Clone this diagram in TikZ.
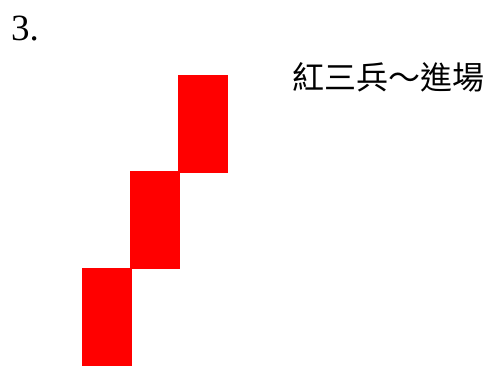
\documentclass[tikz,border=0pt]{standalone}
\usepackage{fontspec}
\setmainfont{Liberation Serif}
\newfontfamily\cjk{Noto Sans CJK TC}
\usepackage{xcolor}
\usetikzlibrary{positioning}

\begin{document}
\begin{tikzpicture}[x=1pt,y=1pt]
\tikzset{candle/.style={fill=red,inner sep=0pt,minimum width=50pt,minimum height=98pt}}
\tikzset{label text/.style={inner sep=0pt,font=\cjk\fontsize{32}{38}\selectfont}}

\useasboundingbox (0,0) rectangle (494,376);

\node[anchor=base west,inner sep=0pt,font=\fontsize{37}{44}\selectfont] (num) at (11,336) {3.};

\node[candle] (c1) at (107,59.5) {};
\node[candle] (c2) at (155,156) {};
\node[candle] (c3) at (203,252) {};

\node[label text,anchor=west] (title) at (292,299) {紅三兵～進場};

\end{tikzpicture}
\end{document}
